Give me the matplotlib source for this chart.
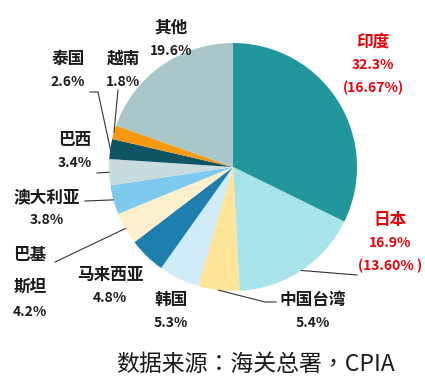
import numpy as np
import matplotlib.pyplot as plt

plt.rcParams['font.family'] = ['Noto Sans CJK SC', 'DejaVu Sans']

# data, clockwise from 12 o'clock
names = ['印度', '日本', '中国台湾', '韩国', '马来西亚', '巴基斯坦',
         '澳大利亚', '巴西', '泰国', '越南', '其他']
shares = [32.3, 16.9, 5.4, 5.3, 4.8, 4.2, 3.8, 3.4, 2.6, 1.8, 19.6]
extra = {'印度': '(16.67%)', '日本': '(13.60% )'}
colors = ['#21979C', '#A7E5EA', '#FFE49A', '#D0ECF8', '#1E7FAE', '#FEF0CC',
          '#7DCAEE', '#C8DCDF', '#0D5562', '#F7990F', '#A9C7C9']

W, H = 425, 385
cx, cy, R = 233, H - 167, 124

fig = plt.figure(figsize=(W / 100, H / 100), dpi=100)
ax = fig.add_axes([0, 0, 1, 1])
wedges, _ = ax.pie(shares, colors=colors, startangle=90, counterclock=False,
                   center=(cx, cy), radius=R, frame=True,
                   wedgeprops=dict(linewidth=0))
ax.set_xlim(0, W)
ax.set_ylim(0, H)
ax.axis('off')

# label placement (pixel coords from top-left): name line y, x
label_pos = {
    '印度': (373, 42), '日本': (390, 220), '中国台湾': (313, 300),
    '韩国': (171, 300), '马来西亚': (110, 275), '巴基斯坦': (30, 255),
    '澳大利亚': (47, 197), '巴西': (75, 140), '泰国': (68, 59),
    '越南': (123, 59), '其他': (171, 28),
}
# leader line outer ends (pixel coords)
leaders = {
    '日本': [(357, 275)], '中国台湾': [(265, 302), (276, 302)],
    '巴基斯坦': [(55, 262)], '澳大利亚': [(85, 201)],
    '巴西': [(97, 173)], '泰国': [(98, 92), (90, 92)],
    '越南': [(118, 90)],
}

total = sum(shares)
cum = np.cumsum([0] + shares)
for i, name in enumerate(names):
    red = name in extra
    col = '#E8000B' if red else '#1a1a1a'
    x, py = label_pos[name]
    step = 23
    if name == '巴基斯坦':
        ax.text(x, H - py, '巴基', ha='center', va='center', fontsize=12,
                fontweight='bold', color=col)
        ax.text(x, H - py - 32, '斯坦', ha='center', va='center', fontsize=12,
                fontweight='bold', color=col)
        ax.text(x, H - py - 57, f'{shares[i]}%', ha='center', va='center',
                fontsize=10, fontweight='bold', color=col)
    else:
        ax.text(x, H - py, name, ha='center', va='center', fontsize=12,
                fontweight='bold', color=col)
        ax.text(x, H - py - step, f'{shares[i]}%', ha='center', va='center',
                fontsize=10, fontweight='bold', color=col)
        if red:
            ax.text(x, H - py - 2 * step, extra[name], ha='center', va='center',
                    fontsize=10, fontweight='bold', color=col)
    if name in leaders:
        mid = (cum[i] + cum[i + 1]) / 2 / total
        ang = np.deg2rad(90 - 360 * mid)
        pts = [(cx + R * np.cos(ang), cy + R * np.sin(ang))]
        pts += [(px, H - py2) for px, py2 in leaders[name]]
        xs, ys = zip(*pts)
        ax.plot(xs, ys, color='#333333', lw=0.8)

ax.text(255, H - 364, '数据来源：海关总署，CPIA', ha='center', va='center',
        fontsize=16.5, color='#1a1a1a',
        family=['Noto Sans CJK TC', 'DejaVu Sans'])

fig.savefig('out.png', dpi=100)
